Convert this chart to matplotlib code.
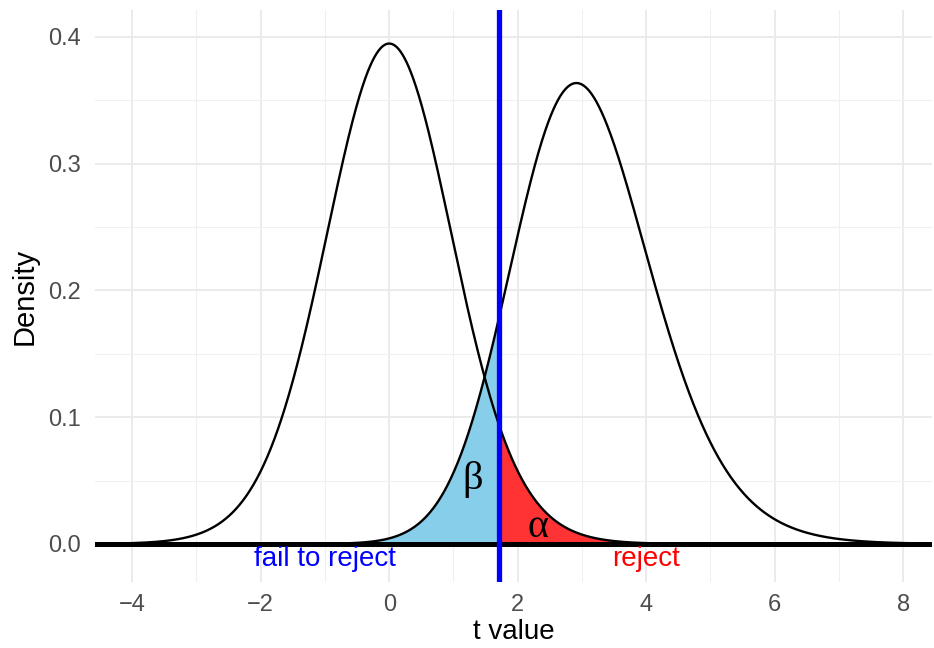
import math
import numpy as np
import matplotlib
matplotlib.use("Agg")
import matplotlib.pyplot as plt

# parameter distribusi (uji t satu arah)
df = 24
ncp = 3.0
t_crit = 1.711  # qt(0.95, 24)

x_ticks = [-4, -2, 0, 2, 4, 6, 8]
y_ticks = [0.0, 0.1, 0.2, 0.3, 0.4]
x_lim = (-4.58, 8.45)
y_lim = (-0.0300, 0.4213)

label_area = ["fail to reject", "reject"]
label_area_x = [-1.0, 4.0]
label_area_y = -0.012


def dt_central(x, nu):
    c = math.exp(math.lgamma((nu + 1) / 2) - math.lgamma(nu / 2)) / math.sqrt(nu * math.pi)
    return c * (1 + x ** 2 / nu) ** (-(nu + 1) / 2)


def dt_noncentral(x, nu, delta):
    # integrasi numerik terhadap chi-kuadrat
    v = np.linspace(1e-6, 150, 8000)
    logg = (nu / 2 - 1) * np.log(v) - v / 2 - (nu / 2) * math.log(2) - math.lgamma(nu / 2)
    g = np.exp(logg)
    s = np.sqrt(v / nu)
    z = x[:, None] * s[None, :] - delta
    phi = np.exp(-0.5 * z ** 2) / math.sqrt(2 * math.pi)
    return np.trapezoid(g[None, :] * s[None, :] * phi, v, axis=1)


x = np.linspace(x_lim[0], x_lim[1], 1200)
x = np.sort(np.append(x, t_crit))
y_null = dt_central(x, df)
y_alt = dt_noncentral(x, df, ncp)

fig = plt.figure(figsize=(9.34, 6.48), dpi=100)
ax = fig.add_axes([0.1017, 0.1019, 0.8962, 0.8827])

# grid ala theme_minimal
for xv in np.arange(-4, 9, 2):
    ax.axvline(xv, color="#EBEBEB", lw=1.4, zorder=0)
for xv in np.arange(-3, 9, 2):
    ax.axvline(xv, color="#F0F0F0", lw=0.8, zorder=0)
for yv in y_ticks:
    ax.axhline(yv, color="#EBEBEB", lw=1.4, zorder=0)
for yv in np.arange(0.05, 0.42, 0.1):
    ax.axhline(yv, color="#F0F0F0", lw=0.8, zorder=0)

kiri = x <= t_crit
kanan = x >= t_crit
ax.fill_between(x[kiri], 0, y_alt[kiri], color="#87CEEB", lw=0, zorder=1)
ax.fill_between(x[kanan], 0, y_null[kanan], color="#FF3333", lw=0, zorder=1)

ax.plot(x, y_null, color="black", lw=1.7, zorder=2)
ax.plot(x, y_alt, color="black", lw=1.7, zorder=2)
ax.axhline(0, color="black", lw=3.6, zorder=3)
ax.axvline(t_crit, color="#0000FF", lw=3.8, zorder=4)

for teks, xt, warna in zip(label_area, label_area_x, ["#0000FF", "#FF0000"]):
    ax.text(xt, label_area_y, teks, color=warna, fontsize=20,
            ha="center", va="center", family="Liberation Sans")
ax.text(1.306, 0.0512, "β", fontsize=29, ha="center", va="center", family="Liberation Serif")
ax.text(2.31, 0.0131, "α", fontsize=29, ha="center", va="center", family="Liberation Serif")

ax.set_xlim(*x_lim)
ax.set_ylim(*y_lim)
ax.set_xticks(x_ticks)
ax.set_xticklabels([str(v).replace("-", "\u2212") for v in x_ticks])
ax.set_yticks(y_ticks)
ax.set_yticklabels([f"{v:.1f}" for v in y_ticks])
ax.tick_params(length=0, labelsize=17, labelcolor="#4D4D4D")
ax.tick_params(axis="x", pad=9)
ax.tick_params(axis="y", pad=10)
for lab in ax.get_xticklabels() + ax.get_yticklabels():
    lab.set_family("Liberation Sans")
for sp in ax.spines.values():
    sp.set_visible(False)
ax.set_xlabel("t value", fontsize=20, family="Liberation Sans", labelpad=2)
ax.set_ylabel("Density", fontsize=21, family="Liberation Sans", labelpad=7)

fig.savefig("out.png", dpi=100)
